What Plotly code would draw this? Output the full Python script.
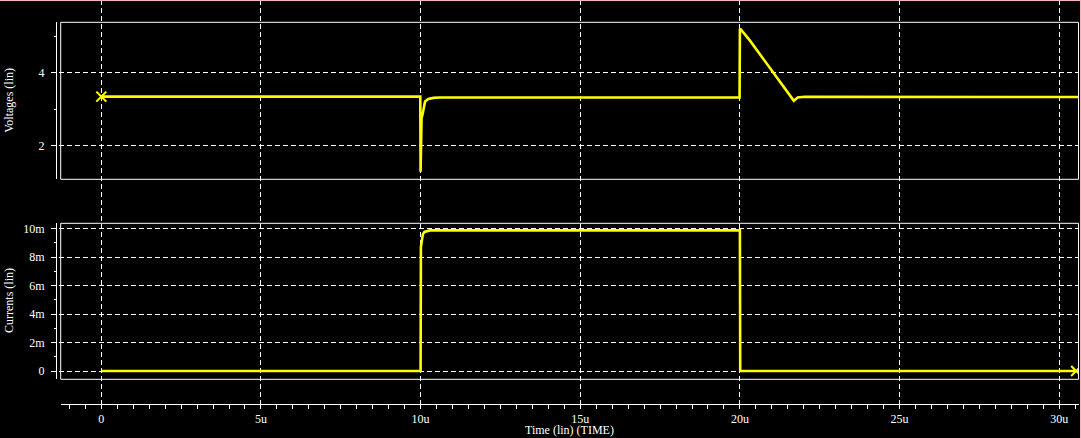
import plotly.graph_objects as go

# ---------------- data (time in microseconds) ----------------
v_time_us = [0.0, 9.99, 10.0, 10.02, 10.03, 10.06, 10.09, 10.14, 10.24, 10.4, 10.6,
             19.99, 20.0, 20.04, 20.31, 20.62, 20.93, 21.2, 21.46, 21.69, 21.81, 22.03, 30.6]
voltage_v = [3.345, 3.345, 1.27, 2.3, 2.75, 2.85, 3.0, 3.21, 3.28, 3.31, 3.32,
             3.32, 5.22, 5.19, 4.9, 4.52, 4.13, 3.81, 3.51, 3.23, 3.32, 3.34, 3.335]

i_time_us = [0.0, 9.99, 10.0, 10.01, 10.03, 10.07, 10.12, 10.19, 10.29, 10.5,
             19.99, 20.0, 20.01, 30.53]
current_a = [0.0, 0.0, 0.0, 8.73e-3, 9.2e-3, 9.6e-3, 9.77e-3, 9.83e-3, 9.88e-3, 9.88e-3,
             9.88e-3, 9.88e-3, 0.0, 0.0]

x_tickvals = [0, 5, 10, 15, 20, 25, 30]
x_ticktext = ["0", "5u", "10u", "15u", "20u", "25u", "30u"]
v_tickvals = [2, 4]
v_ticktext = ["2", "4"]
i_tickvals = [0, 2e-3, 4e-3, 6e-3, 8e-3, 10e-3]
i_ticktext = ["0", "2m", "4m", "6m", "8m", "10m"]

# ---------------- layout geometry (pixels) ----------------
W, H = 1081, 438
X0_PX, PX_PER_US = 101.3, 31.93          # pixel of t=0, pixels per microsecond
BOX_L, BOX_R = 60.7, 1078.5               # plot box left/right
GRID_L = 51.0                             # horizontal grid starts here
SPINE_X = 56.0                            # y axis spine position
TOP_Y0, TOP_Y1 = 22.3, 179.3              # voltage box top/bottom
BOT_Y0, BOT_Y1 = 223.3, 379.3             # current box top/bottom
AXIS_Y = 403.5                            # time axis line


def fx(p):
    return p / W


def fy(p):
    return 1 - p / H


def xrange_for(left_px, right_px):
    return [(left_px - X0_PX) / PX_PER_US, (right_px - X0_PX) / PX_PER_US]


FONT = "Liberation Serif"
WHITE = "#ffffff"
YELLOW = "#ffff00"
DASH = "5px,3px"

fig = go.Figure()

# overlay subplot (x/y): time axis + vertical grid spanning the whole height
fig.add_trace(go.Scatter(x=[None], y=[None], xaxis="x", yaxis="y", showlegend=False,
                         hoverinfo="skip"))

# voltage
fig.add_trace(go.Scatter(x=v_time_us, y=voltage_v, xaxis="x2", yaxis="y2", mode="lines",
                         line=dict(color=YELLOW, width=2.6), showlegend=False))
fig.add_trace(go.Scatter(x=[v_time_us[0]], y=[voltage_v[0]], xaxis="x2", yaxis="y2",
                         mode="markers", showlegend=False,
                         marker=dict(symbol="x-thin", size=10,
                                     line=dict(color=YELLOW, width=2))))
# current
fig.add_trace(go.Scatter(x=i_time_us, y=current_a, xaxis="x3", yaxis="y3", mode="lines",
                         line=dict(color=YELLOW, width=2.6), showlegend=False))
fig.add_trace(go.Scatter(x=[i_time_us[-1]], y=[current_a[-1]], xaxis="x3", yaxis="y3",
                         mode="markers", showlegend=False,
                         marker=dict(symbol="x-thin", size=10,
                                     line=dict(color=YELLOW, width=2))))

tickfont = dict(family=FONT, size=12, color=WHITE)

fig.update_layout(
    width=W, height=H,
    margin=dict(l=0, r=0, t=0, b=0),
    paper_bgcolor="#000000",
    plot_bgcolor="rgba(0,0,0,0)",
    showlegend=False,
    xaxis=dict(domain=[fx(BOX_L), fx(BOX_R)], range=xrange_for(BOX_L, BOX_R),
               anchor="y", tickvals=x_tickvals, ticktext=x_ticktext,
               showgrid=True, gridcolor=WHITE, gridwidth=1, griddash=DASH,
               zeroline=False, showline=True, linecolor=WHITE, linewidth=1,
               ticks="outside", ticklen=4, tickcolor=WHITE, tickwidth=1,
               minor=dict(dtick=0.5, tick0=0, ticks="outside", ticklen=4,
                          tickcolor=WHITE, showgrid=False),
               tickfont=tickfont, ticklabelstandoff=0, fixedrange=True),
    yaxis=dict(domain=[fy(AXIS_Y), 1], range=[0, 1], visible=False, fixedrange=True),
    xaxis2=dict(domain=[fx(GRID_L), fx(BOX_R)], range=xrange_for(GRID_L, BOX_R),
                anchor="y2", visible=False, fixedrange=True),
    yaxis2=dict(domain=[fy(TOP_Y1), fy(TOP_Y0)], range=[1.06, 5.40], anchor="free",
                position=fx(SPINE_X), tickvals=v_tickvals, ticktext=v_ticktext,
                showgrid=True, gridcolor=WHITE, gridwidth=1, griddash=DASH,
                zeroline=False, showline=True, linecolor=WHITE, linewidth=1,
                ticks="outside", ticklen=5, tickcolor=WHITE,
                minor=dict(dtick=1, tick0=0, ticks="outside", ticklen=2,
                           tickcolor=WHITE, showgrid=False),
                tickfont=tickfont, ticklabelstandoff=4, fixedrange=True),
    xaxis3=dict(domain=[fx(GRID_L), fx(BOX_R)], range=xrange_for(GRID_L, BOX_R),
                anchor="y3", visible=False, fixedrange=True),
    yaxis3=dict(domain=[fy(BOT_Y1), fy(BOT_Y0)], range=[-0.58e-3, 10.38e-3], anchor="free",
                position=fx(SPINE_X), tickvals=i_tickvals, ticktext=i_ticktext,
                showgrid=True, gridcolor=WHITE, gridwidth=1, griddash=DASH,
                zeroline=False, showline=True, linecolor=WHITE, linewidth=1,
                ticks="outside", ticklen=5, tickcolor=WHITE,
                minor=dict(dtick=1e-3, tick0=0, ticks="outside", ticklen=2,
                           tickcolor=WHITE, showgrid=False),
                tickfont=tickfont, ticklabelstandoff=4, fixedrange=True),
    shapes=[
        dict(type="rect", xref="paper", yref="paper",
             x0=fx(BOX_L), x1=fx(BOX_R), y0=fy(TOP_Y1), y1=fy(TOP_Y0),
             line=dict(color=WHITE, width=1), layer="above"),
        dict(type="rect", xref="paper", yref="paper",
             x0=fx(BOX_L), x1=fx(BOX_R), y0=fy(BOT_Y1), y1=fy(BOT_Y0),
             line=dict(color=WHITE, width=1), layer="above"),
        dict(type="line", xref="paper", yref="paper", x0=0, x1=1, y0=fy(0.5), y1=fy(0.5),
             line=dict(color="#f4b4bc", width=1)),
        dict(type="line", xref="paper", yref="paper", x0=fx(1080.5), x1=fx(1080.5),
             y0=0, y1=1, line=dict(color="#f4b4bc", width=1)),
    ],
    annotations=[
        dict(text="Voltages (lin)", xref="paper", yref="paper", x=fx(9),
             y=fy((TOP_Y0 + TOP_Y1) / 2), textangle=-90, showarrow=False,
             xanchor="center", yanchor="middle", font=dict(family=FONT, size=12, color=WHITE)),
        dict(text="Currents (lin)", xref="paper", yref="paper", x=fx(9),
             y=fy(301), textangle=-90, showarrow=False,
             xanchor="center", yanchor="middle", font=dict(family=FONT, size=12, color=WHITE)),
        dict(text="Time (lin) (TIME)", xref="paper", yref="paper", x=fx(569),
             y=fy(430), showarrow=False, xanchor="center", yanchor="middle",
             font=dict(family=FONT, size=12, color=WHITE)),
    ],
)

fig.write_html(
    "out.html",
    config={"displayModeBar": False, "staticPlot": False},
    post_script="document.body.style.margin='0';document.body.style.padding='0';"
                "document.body.style.overflow='hidden';"
                "document.body.style.background='#000';",
)
